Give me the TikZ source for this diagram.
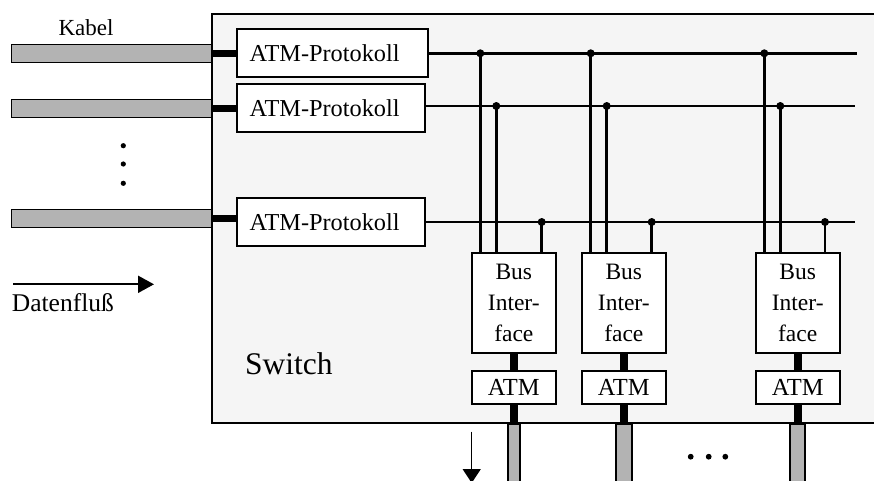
\documentclass[tikz,border=0pt]{standalone}
\usepackage{fontspec}
\setmainfont{Liberation Serif}
\usetikzlibrary{arrows.meta}
\definecolor{swfill}{HTML}{F5F5F5}
\definecolor{cablegray}{HTML}{B3B3B3}
\begin{document}
\begin{tikzpicture}[x=1pt,y=-1pt,
  txt/.style={font=\fontsize{23.5}{31}\selectfont},
  protbox/.style={draw,line width=2pt,fill=white,font=\fontsize{24.3}{30}\selectfont,
    anchor=north west,minimum height=48pt,inner xsep=13pt,text width=#1,align=left},
  bibox/.style={draw,line width=2pt,fill=white,txt,minimum width=84pt,
    minimum height=100pt,inner sep=0pt,align=center},
  atmbox/.style={draw,line width=2pt,fill=white,font=\fontsize{24.5}{30}\selectfont,
    minimum width=84pt,minimum height=33pt,inner sep=0pt},
  hcable/.style={draw,line width=1.5pt,fill=cablegray,minimum width=200pt,
    minimum height=18pt,inner sep=0pt,anchor=west},
  vcable/.style={draw,line width=1.5pt,fill=cablegray,minimum width=#1,
    minimum height=70pt,inner sep=0pt,anchor=north},
  stub/.style={line width=7pt},
  bus/.style={line width=2.7pt},
  junc/.style={fill=black}
]
\clip (0,0) rectangle (874,480);

% switch
\node[draw,line width=2pt,fill=swfill,anchor=north west,minimum width=700pt,
  minimum height=409pt,inner sep=0pt] (sw) at (210.7,12.7) {};
\node[font=\fontsize{31.5}{36}\selectfont,anchor=base west,inner sep=0pt] (swl) at (245,374.3) {Switch};

% cables in
\node[hcable] (c1) at (10.7,53.5) {};
\node[hcable] (c2) at (10.7,108.5) {};
\node[hcable] (c3) at (10.7,218.5) {};
\node[font=\fontsize{23}{28}\selectfont,anchor=base west,inner sep=0pt] (kabel) at (58.3,35) {Kabel};

% protocol boxes
\node[protbox=165pt] (p1) at (235.7,28.3) {ATM-Protokoll};
\node[protbox=162.6pt] (p2) at (235.7,83.3) {ATM-Protokoll};
\node[protbox=162.6pt] (p3) at (235.7,197.3) {ATM-Protokoll};

\draw[stub] (c1.east) -- (c1.east -| p1.west);
\draw[stub] (c2.east) -- (c2.east -| p2.west);
\draw[stub] (c3.east) -- (c3.east -| p3.west);

% dots
\fill (123.3,145.7) circle (2.6);
\fill (123.3,164) circle (2.6);
\fill (123.3,183.3) circle (2.6);

% buses
\coordinate (e1) at (857,53.3);
\coordinate (e2) at (855,106);
\coordinate (e3) at (855,222);
\draw[bus] (p1.east |- e1) -- (e1);
\draw[bus] (p2.east |- e2) -- (e2);
\draw[bus] (p3.east |- e3) -- (e3);

% bus interface boxes
\node[bibox] (b1) at (513.8,302.7) {Bus\\Inter-\\face};
\node[bibox] (b2) at (623.8,302.7) {Bus\\Inter-\\face};
\node[bibox] (b3) at (797.7,302.7) {Bus\\Inter-\\face};

\node[atmbox] (a1) at (513.8,387.3) {ATM};
\node[atmbox] (a2) at (623.8,387.3) {ATM};
\node[atmbox] (a3) at (797.7,387.3) {ATM};

% junctions and verticals
\foreach \n/\x/\r/\b in {11/480.3/1/1, 12/496.3/2/1, 13/541.7/3/1,
                         21/590.7/1/2, 22/606.7/2/2, 23/651.7/3/2,
                         31/764.3/1/3, 32/780.3/2/3, 33/825/3/3}{
  \coordinate (j\n) at (\x,0 |- e\r);
  \draw[bus] (j\n) -- (j\n |- b\b.north);
  \fill[junc] (j\n) circle (4);
}

% stubs and outgoing cables
\node[vcable=12pt] (d1) at (a1.south |- sw.south) {};
\node[vcable=16pt] (d2) at (a2.south |- sw.south) {};
\node[vcable=15pt] (d3) at (a3.south |- sw.south) {};
\foreach \i in {1,2,3}{
  \draw[stub,line width=8pt] (b\i.south) -- (a\i.north);
  \draw[stub,line width=8pt] (a\i.south) -- (d\i.north);
}

% bottom dots
\fill (690.7,456.7) circle (2.9);
\fill (708.7,456.7) circle (2.9);
\fill (725.3,456.7) circle (2.9);

% down arrow
\coordinate (da) at (471.7,431.7);
\coordinate (db) at (471.7,483);
\draw[line width=1.5pt,-{Triangle[width=18pt,length=14pt]}] (da) -- (db);

% Datenfluss arrow
\coordinate (fa) at (13.3,284.3);
\coordinate (fb) at (154,284.3);
\draw[line width=2pt,-{Triangle[width=17pt,length=16pt]}] (fa) -- (fb);
\node[font=\fontsize{25.5}{30}\selectfont,anchor=base west,inner sep=0pt] (dfl) at (11.7,311.7) {Datenfluß};
\end{tikzpicture}
\end{document}
